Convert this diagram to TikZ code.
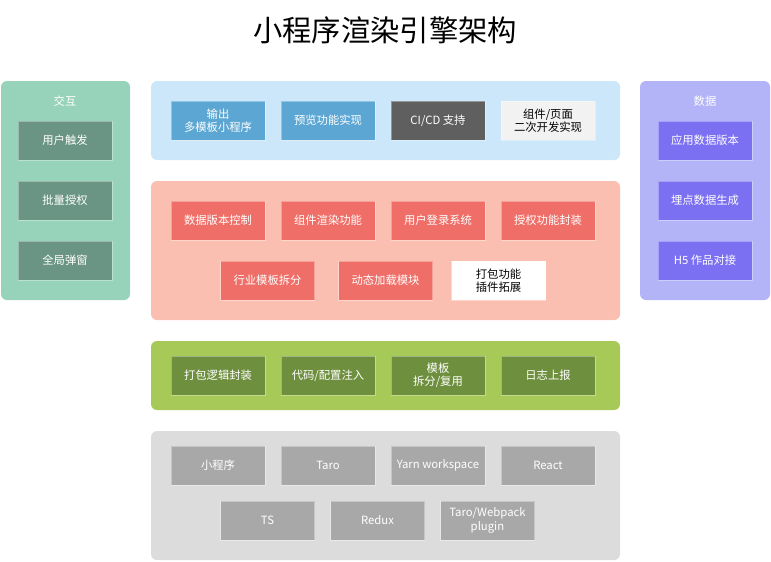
\documentclass[tikz,border=0pt]{standalone}
\usepackage{fontspec}
\setmainfont{Noto Sans CJK SC}
\usepackage{xcolor}
\usetikzlibrary{positioning}

\definecolor{mintbg}{HTML}{97D2BB}
\definecolor{mintbox}{HTML}{6A9584}
\definecolor{lilacbg}{HTML}{B3B3F8}
\definecolor{lilacbox}{HTML}{7B6FF2}
\definecolor{skybg}{HTML}{CCE7FA}
\definecolor{skybox}{HTML}{5CA6D3}
\definecolor{darkbox}{HTML}{5F5F5F}
\definecolor{palebox}{HTML}{F2F2F2}
\definecolor{salmonbg}{HTML}{FBBFB2}
\definecolor{redbox}{HTML}{EF6F68}
\definecolor{olivebg}{HTML}{A7C957}
\definecolor{olivebox}{HTML}{6E8F3E}
\definecolor{greybg}{HTML}{DCDCDC}
\definecolor{greybox}{HTML}{A8A8A8}

\tikzset{
  panel/.style={draw=none, rounded corners=4.5pt},
  box/.style={draw=white, draw opacity=0.35, minimum width=70.5pt, minimum height=29.25pt,
    inner sep=0pt, align=center, text=white, font=\fontsize{8.5pt}{10pt}\selectfont},
}

\begin{document}
\begin{tikzpicture}[x=0.75pt,y=0.75pt,yscale=-1,xscale=1]
\useasboundingbox (0,0) rectangle (771,561);

% title
\node (title) at (385,30) {\fontsize{22pt}{26pt}\selectfont 小程序渲染引擎架构};

% panels
\fill[panel, mintbg] (1,81) rectangle (130,300);
\fill[panel, lilacbg] (640,81) rectangle (770,300);
\fill[panel, skybg] (151,81) rectangle (620,160);
\fill[panel, salmonbg] (151,181) rectangle (620,320);
\fill[panel, olivebg] (151,341) rectangle (620,410);
\fill[panel, greybg] (151,431) rectangle (620,560);

% left
\node[text=white, font=\fontsize{8.5pt}{10pt}\selectfont] (jiaohu) at (65,101) {交互};
\node[box, fill=mintbox] (chufa) at (65,140.5) {用户触发};
\node[box, fill=mintbox] (shouquan) at (65,200.5) {批量授权};
\node[box, fill=mintbox] (tanchuang) at (65,260.5) {全局弹窗};

% right
\node[text=white, font=\fontsize{8.5pt}{10pt}\selectfont] (shuju) at (705,101) {数据};
\node[box, fill=lilacbox] (banben) at (705,140.5) {应用数据版本};
\node[box, fill=lilacbox] (maidian) at (705,200.5) {埋点数据生成};
\node[box, fill=lilacbox] (duijie) at (705,260.5) {H5 作品对接};

% top
\node[box, fill=skybox] (shuchu) at (218,120.5) {输出\\多模板小程序};
\node[box, fill=skybox] (yulan) at (328,120.5) {预览功能实现};
\node[box, fill=darkbox] (cicd) at (438,120.5) {CI/CD 支持};
\node[box, fill=palebox, text=black] (erci) at (548,120.5) {组件/页面\\二次开发实现};

% function
\node[box, fill=redbox] (kongzhi) at (218,220.5) {数据版本控制};
\node[box, fill=redbox] (xuanran) at (328,220.5) {组件渲染功能};
\node[box, fill=redbox] (denglu) at (438,220.5) {用户登录系统};
\node[box, fill=redbox] (fengzhuang) at (548,220.5) {授权功能封装};
\node[box, fill=redbox] (chaifen) at (267.5,280.5) {行业模板拆分};
\node[box, fill=redbox] (jiazai) at (385.5,280.5) {动态加载模块};
\node[box, fill=white, text=black] (tuozhan) at (498.5,280.5) {打包功能\\插件拓展};

% build
\node[box, fill=olivebox] (dabao) at (218,375.5) {打包逻辑封装};
\node[box, fill=olivebox] (zhuru) at (328,375.5) {代码/配置注入};
\node[box, fill=olivebox] (fuyong) at (438,375.5) {模板\\拆分/复用};
\node[box, fill=olivebox] (rizhi) at (548,375.5) {日志上报};

% base
\node[box, fill=greybox] (xcx) at (218,465.5) {小程序};
\node[box, fill=greybox] (taro) at (328,465.5) {Taro};
\node[box, fill=greybox] (yarn) at (438,465.5) {Yarn workspace};
\node[box, fill=greybox] (react) at (548,465.5) {React};
\node[box, fill=greybox] (ts) at (267.5,520.5) {TS};
\node[box, fill=greybox] (redux) at (377.5,520.5) {Redux};
\node[box, fill=greybox] (webpack) at (487.5,520.5) {Taro/Webpack\\plugin};

\end{tikzpicture}
\end{document}
